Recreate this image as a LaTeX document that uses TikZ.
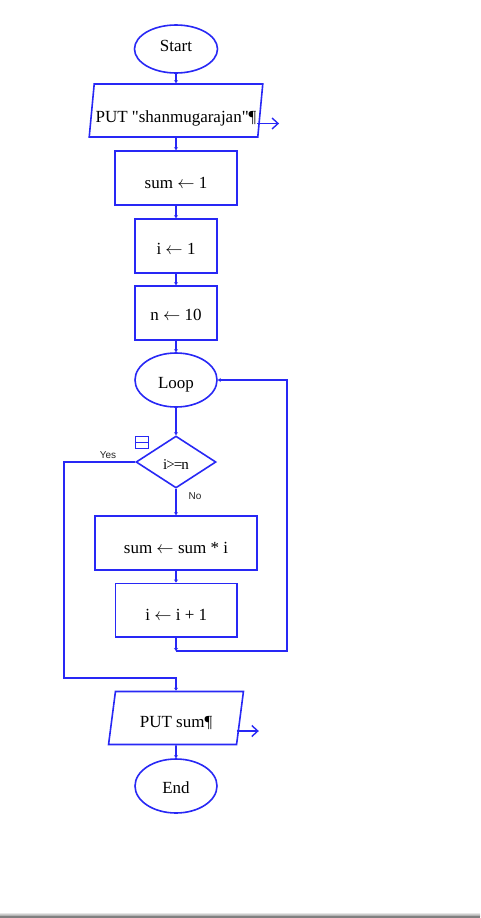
\documentclass[tikz,border=0pt]{standalone}
\usepackage{fontspec}
\setmainfont{Liberation Serif}[Ligatures=TeXOff]
\newfontfamily\tagfont{Liberation Sans}
\usetikzlibrary{shapes.geometric,arrows.meta,calc}
\definecolor{fc}{RGB}{40,40,245}
\newcommand{\larr}{\ensuremath{\leftarrow}}
\begin{document}
\begin{tikzpicture}[x=1pt,y=-1pt,
  shp/.style={draw=fc, line width=1.6pt, inner sep=0pt, text=black,
              text depth=4pt, font=\fontsize{17}{19}\selectfont},
  term/.style={shp, ellipse, minimum width=82pt, minimum height=54pt},
  proc/.style={shp, rectangle, minimum height=54pt},
  io/.style={shp, trapezium, trapezium left angle=81, trapezium right angle=99,
             trapezium stretches=true, minimum height=53pt},
  decision/.style={shp, diamond, minimum width=80pt, minimum height=52pt},
  flow/.style={draw=fc, line width=1.6pt, -{Stealth[length=3pt,width=4pt]}},
  outflow/.style={draw=fc, line width=1.4pt, -{Straight Barb[length=6pt,width=11pt]}},
  tag/.style={font=\tagfont\fontsize{10}{11}\selectfont, text=black!85, inner sep=0pt}]
\useasboundingbox (0,0) rectangle (480,918);
\fill[white] (0,0) rectangle (480,918);
% bottom edge of the page
\shade[top color=white, bottom color=black!40] (0,912) rectangle (480,916);
\fill[black!50] (0,916) rectangle (480,918);

% shapes (text height sets where the baseline sits inside each shape)
\node[term, minimum width=83pt, minimum height=48pt, text height=8pt] (start) at (176,49) {Start};
\node[io, minimum width=174pt, text height=27pt] (put1) at (176,110.5) {PUT "shanmugarajan"¶};
\node[proc, minimum width=122pt, text height=24pt] (sum1) at (176,178) {sum \larr\ 1};
\node[proc, minimum width=82pt, text height=20pt] (i1) at (176,246) {i \larr\ 1};
\node[proc, minimum width=82pt, text height=19.5pt] (n1) at (176,313) {n \larr\ 10};
\node[term, text height=21pt] (loop) at (176,380) {Loop};
\node[decision, text height=18pt] (dec) at (176,462) {\fontsize{15}{17}\selectfont i\kern-1pt>\kern-1pt=\kern-1pt n};
\node[proc, minimum width=162pt, text height=24pt] (mul) at (176,543) {sum \larr\ sum * i};
\node[proc, minimum width=121.4pt, minimum height=53.4pt, text height=24pt] (inc) at (176.2,610) {i \larr\ i + 1};
\node[io, minimum width=135pt, text height=22pt] (put2) at (176,718) {PUT sum¶};
\node[term, text height=19pt] (end) at (176,786) {End};

% collapse marker beside the decision
\node[draw=fc, line width=1.4pt, minimum width=13pt, minimum height=12pt, inner sep=0pt] (mark) at (142,442.5) {};
\draw[fc, line width=1.2pt] (mark.west) -- (mark.east);

% branch labels
\node[tag] (yes) at (108,455) {Yes};
\node[tag] (no) at (195,496) {No};

% helper points for routed connectors
\coordinate (yesA) at (64,462);
\coordinate (yesB) at (176,678);
\coordinate (backA) at (176,651);
\coordinate (backB) at (287,380);
\coordinate (out1) at ([yshift=-13pt]put1.east);
\coordinate (out2) at ([yshift=-13pt]put2.east);

% connectors
\draw[flow] (start.south) -- (put1.north);
\draw[flow] (put1.south) -- (sum1.north);
\draw[flow] (sum1.south) -- (i1.north);
\draw[flow] (i1.south) -- (n1.north);
\draw[flow] (n1.south) -- (loop.north);
\draw[flow] (loop.south) -- (dec.north);
\draw[flow] (dec.south) -- (mul.north);
\draw[flow] (mul.south) -- (inc.north -| mul.south);
\draw[flow] (inc.south -| backA) -- (backA);
\draw[flow] (backA) -| (backB) -- (loop.east);
\draw[flow] (dec.west) -- (yesA) |- (yesB) -- (put2.north);
\draw[flow] (put2.south) -- (end.north);
\draw[outflow] ([xshift=-4pt]out1) -- ++(22,0);
\draw[outflow] ([xshift=-4pt]out2) -- ++(22,0);
\end{tikzpicture}
\end{document}
